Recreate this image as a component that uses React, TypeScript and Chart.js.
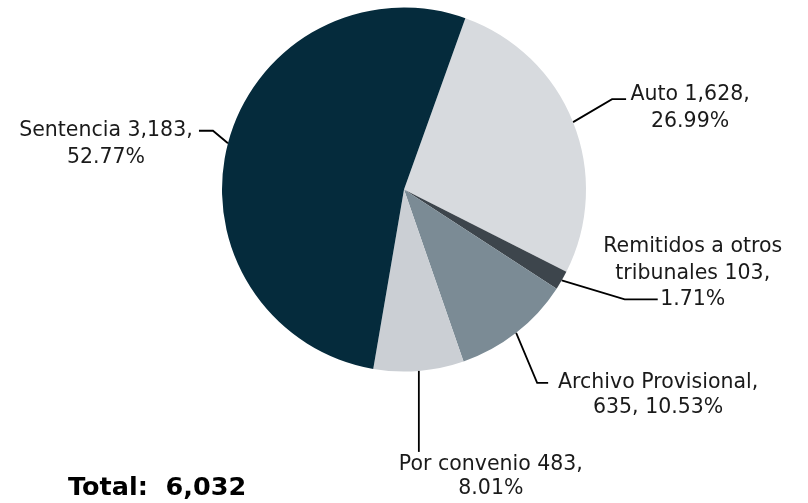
import React, { useEffect, useRef } from "react";
import { Chart, registerables } from "chart.js";

Chart.register(...registerables);

const categories = ["Auto", "Remitidos a otros\ntribunales", "Archivo Provisional", "Por convenio", "Sentencia"];
const values = [1628, 103, 635, 483, 3183];
const colors = ["#d7dade", "#3d454c", "#7b8b95", "#cbcfd4", "#052b3c"];
// text placed between the name and the value, and between the value and the percentage
const nameSep = [" ", " ", ",\n", " ", " "];
const valueSep = [",\n", ",\n", ", ", ",\n", ",\n"];
const totalLabel = "Total:  ";

// leader line / label layout, offsets from the slice's outer mid point
const labelLayout = [
  { elbow: [39, -23], end: [53, -23], text: [117, -22], gap: 27 },
  { elbow: [63, 19], end: [96, 19], text: [131, -28], gap: 26.5 },
  { elbow: [21, 50], end: [32, 50], text: [142, 55.5], gap: 25 },
  { elbow: [0, 40], end: [0, 81], text: [72, 99], gap: 24.5 },
  { elbow: [-15, -12.5], end: [-29, -12.5], text: [-122, -7], gap: 27 },
];

const FONT = '"DejaVu Sans", sans-serif';
const fmt = (n: number) => n.toLocaleString("en-US");

const leaderLabels = {
  id: "leaderLabels",
  afterDatasetsDraw(chart: any) {
    const ctx = chart.ctx as CanvasRenderingContext2D;
    const meta = chart.getDatasetMeta(0);
    const data = chart.data.datasets[0].data as number[];
    const total = data.reduce((a, b) => a + b, 0);
    ctx.save();
    meta.data.forEach((arc: any, i: number) => {
      const p = arc.getProps(["x", "y", "startAngle", "endAngle", "outerRadius"], true);
      const mid = (p.startAngle + p.endAngle) / 2;
      const px = p.x + Math.cos(mid) * p.outerRadius;
      const py = p.y + Math.sin(mid) * p.outerRadius;
      const lay = labelLayout[i];
      ctx.strokeStyle = "#000000";
      ctx.lineWidth = 1.8;
      ctx.beginPath();
      ctx.moveTo(px, py);
      ctx.lineTo(px + lay.elbow[0], py + lay.elbow[1]);
      ctx.lineTo(px + lay.end[0], py + lay.end[1]);
      ctx.stroke();

      const pct = ((data[i] / total) * 100).toFixed(2) + "%";
      const text = categories[i] + nameSep[i] + fmt(data[i]) + valueSep[i] + pct;
      const lines = text.split("\n");
      ctx.fillStyle = "#1a1a1a";
      ctx.font = `20.5px ${FONT}`;
      ctx.textAlign = "center";
      ctx.textBaseline = "alphabetic";
      lines.forEach((ln, k) => {
        ctx.fillText(ln, px + lay.text[0], py + lay.text[1] + k * lay.gap);
      });
    });
    ctx.fillStyle = "#000000";
    ctx.font = `bold 25.5px ${FONT}`;
    ctx.textAlign = "left";
    ctx.textBaseline = "alphabetic";
    ctx.fillText(totalLabel + fmt(total), 68, 495);
    ctx.restore();
  },
};

export default function App() {
  const ref = useRef<HTMLCanvasElement | null>(null);
  useEffect(() => {
    if (!ref.current) return;
    const chart = new Chart(ref.current, {
      type: "pie",
      data: {
        labels: categories.map((c) => c.replace("\n", " ")),
        datasets: [
          {
            data: values,
            backgroundColor: colors,
            borderWidth: 0,
            hoverOffset: 0,
          },
        ],
      },
      options: {
        responsive: false,
        animation: false,
        rotation: 19.7,
        layout: { padding: { top: 7.5, bottom: 131.5, left: 222, right: 222 } },
        plugins: {
          legend: { display: false },
          tooltip: { enabled: false },
          title: { display: false },
        },
      },
      plugins: [leaderLabels],
    });
    return () => chart.destroy();
  }, []);
  return (
    <div style={{ position: "absolute", left: 0, top: 0, width: 808, height: 503, background: "#ffffff" }}>
      <canvas ref={ref} width={808} height={503} style={{ display: "block" }} />
    </div>
  );
}
